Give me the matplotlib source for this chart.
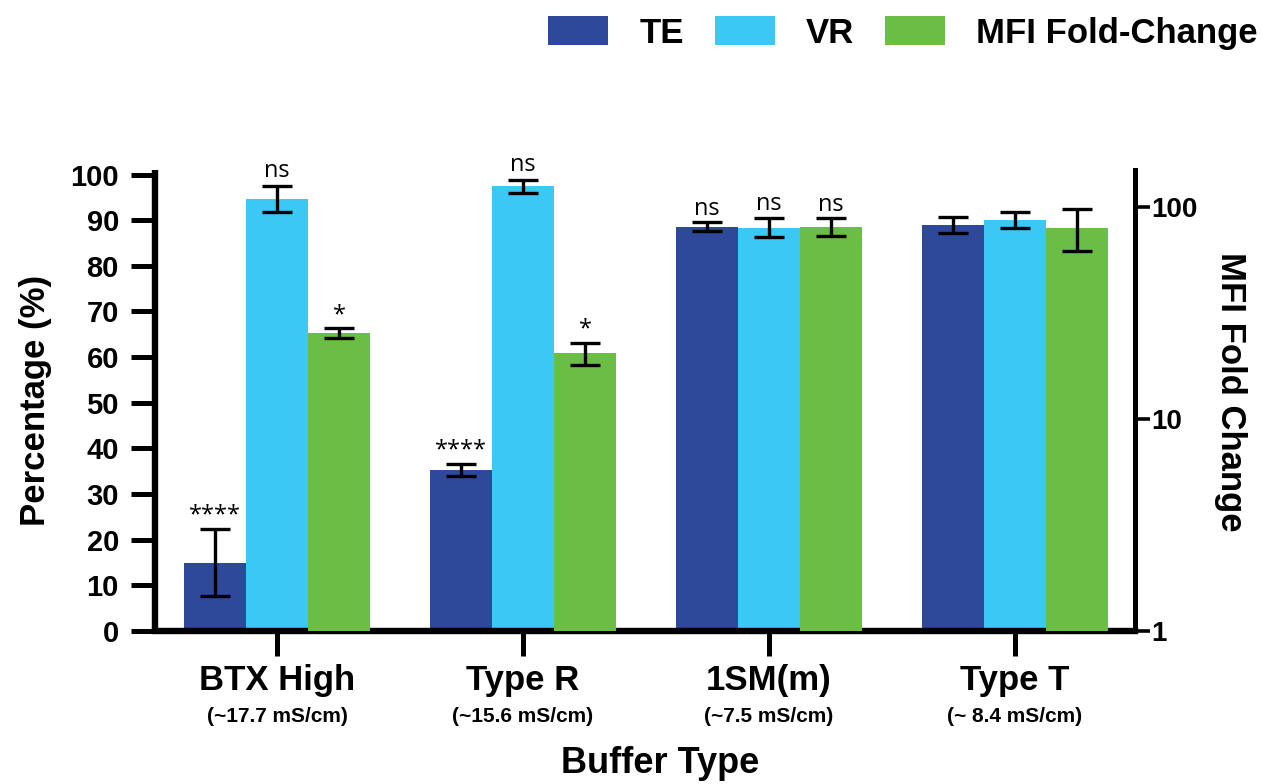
import matplotlib
matplotlib.use("Agg")
import matplotlib.pyplot as plt
from matplotlib.patches import Patch
from matplotlib.ticker import FixedLocator, FixedFormatter, NullLocator
import numpy as np

plt.rcParams['font.family'] = ['Liberation Sans', 'DejaVu Sans']

# ---- data ----
buffers = ["BTX High", "Type R", "1SM(m)", "Type T"]
conductivity = ["(~17.7 mS/cm)", "(~15.6 mS/cm)", "(~7.5 mS/cm)", "(~ 8.4 mS/cm)"]
te_mean = [15.0, 35.3, 88.6, 89.0]
te_err = [7.3, 1.3, 1.0, 1.8]
vr_mean = [94.7, 97.4, 88.4, 90.1]
vr_err = [2.9, 1.5, 2.0, 1.8]
mfi_mean = [25.5, 20.5, 81.0, 80.0]
mfi_err = [1.3, 2.4, 8.0, 18.0]
te_sig = ["****", "****", "ns", ""]
vr_sig = ["ns", "ns", "ns", ""]
mfi_sig = ["*", "*", "ns", ""]
series_names = ["TE", "VR", "MFI Fold-Change"]
colors = ["#2E489A", "#3CC8F4", "#6ABD45"]

W, H = 1262, 784
fig = plt.figure(figsize=(W / 100, H / 100), dpi=100)
ax = fig.add_axes([155 / W, 1 - 631 / H, (1135 - 155) / W, (631 - 170) / H])
ax2 = ax.twinx()

x = np.arange(len(buffers))
bw = 0.252

ax.bar(x - bw, te_mean, bw, color=colors[0], zorder=2)
ax.bar(x, vr_mean, bw, color=colors[1], zorder=2)
ax2.bar(x + bw, mfi_mean, bw, bottom=0, color=colors[2], zorder=2)

ekw = dict(fmt='none', ecolor='black', elinewidth=2.4, capsize=10.5, capthick=2.4, zorder=3)
ax.errorbar(x - bw, te_mean, yerr=te_err, **ekw)
ax.errorbar(x, vr_mean, yerr=vr_err, **ekw)
ax2.errorbar(x + bw, mfi_mean, yerr=mfi_err, **ekw)

afont = dict(family=['Open Sans', 'DejaVu Sans'], fontsize=17, ha='center', va='bottom')
for i in range(len(buffers)):
    if te_sig[i]:
        ax.annotate(te_sig[i], (x[i] - bw, te_mean[i] + te_err[i]), xytext=(0, 1),
                    textcoords='offset points', **afont)
    if vr_sig[i]:
        ax.annotate(vr_sig[i], (x[i], vr_mean[i] + vr_err[i]), xytext=(0, 2),
                    textcoords='offset points', **afont)
    if mfi_sig[i]:
        ax2.annotate(mfi_sig[i], (x[i] + bw, mfi_mean[i] + mfi_err[i]), xytext=(0, 1),
                     textcoords='offset points', **afont)

# left axis
ax.set_xlim(-0.496, 3.488)
ax.set_ylim(0, 101)
ax.set_yticks(np.arange(0, 101, 10))
ax.tick_params(axis='y', length=17, width=3.6, pad=9, labelsize=21)
for lab in ax.get_yticklabels():
    lab.set_fontweight('bold')
ax.set_xticks(x)
ax.set_xticklabels([])
ax.tick_params(axis='x', length=18, width=3.6)
for s in ['top', 'right']:
    ax.spines[s].set_visible(False)
ax.spines['left'].set_linewidth(4.6)
ax.spines['bottom'].set_linewidth(4.6)
ax.spines['left'].set_capstyle('butt')

# right axis (log)
ax2.set_yscale('log')
ax2.set_ylim(1, 150)
ax2.yaxis.set_major_locator(FixedLocator([1, 10, 100]))
ax2.yaxis.set_major_formatter(FixedFormatter(["1", "10", "100"]))
ax2.yaxis.set_minor_locator(NullLocator())
ax2.tick_params(axis='y', length=11, width=2.6, pad=1, labelsize=20)
for lab in ax2.get_yticklabels():
    lab.set_fontweight('bold')
for s in ['top', 'left', 'bottom']:
    ax2.spines[s].set_visible(False)
ax2.spines['right'].set_linewidth(3.6)

# x labels
for i in range(len(buffers)):
    ax.annotate(buffers[i], (x[i], 0), xycoords=('data', 'axes fraction'),
                xytext=(0, -42.5), textcoords='offset points', ha='center', va='baseline',
                fontsize=25, fontweight='bold', annotation_clip=False)
    ax.annotate(conductivity[i], (x[i], 0), xycoords=('data', 'axes fraction'),
                xytext=(0, -65.5), textcoords='offset points', ha='center', va='baseline',
                fontsize=15, fontweight='bold', annotation_clip=False)

fig.text(660 / W, 1 - 773 / H, "Buffer Type", ha='center', va='baseline',
         fontsize=26, fontweight='bold')
fig.text(36 / W, 1 - 400 / H, "Percentage (%)", ha='center', va='center',
         rotation=90, fontsize=25, fontweight='bold')
fig.text(1231 / W, 1 - 392 / H, "MFI Fold Change", ha='center', va='center',
         rotation=270, fontsize=25, fontweight='bold')

handles = [Patch(facecolor=c) for c in colors]
leg = fig.legend(handles, series_names, loc='upper right', bbox_to_anchor=(1258 / W, 1 - 16 / H),
                 ncol=3, frameon=False, borderpad=0, borderaxespad=0,
                 handlelength=1.72, handleheight=0.92, handletextpad=0.9,
                 columnspacing=0.9, prop=dict(size=25, weight='bold'))

fig.savefig("out.png", dpi=100)
